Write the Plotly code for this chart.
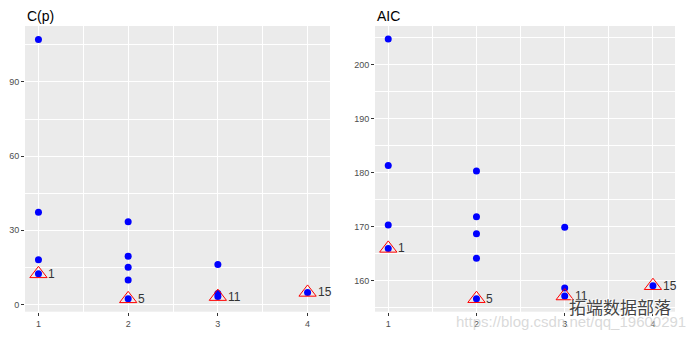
import plotly.graph_objects as go

# ---- data ----
sizes = [1, 1, 1, 1, 2, 2, 2, 2, 2, 3, 3, 3, 4]
cp_vals = [107.1, 37.3, 18.1, 12.4, 33.5, 19.5, 15.1, 9.9, 2.3, 16.2, 4.5, 3.2, 4.9]
aic_vals = [204.7, 181.3, 170.3, 166.0, 180.3, 171.85, 168.7, 164.2, 156.7, 169.9, 158.7, 157.2, 159.1]

best_sizes = [1, 2, 3, 4]
best_labels = ["1", "5", "11", "15"]
best_cp = [12.4, 2.3, 3.2, 4.9]
best_aic = [166.0, 156.7, 157.2, 159.1]

panel_titles = ["C(p)", "AIC"]

FONT = "Liberation Sans, Arial, sans-serif"
W, H = 696, 338

fig = go.Figure()

panels = [
    dict(xa="x", ya="y", vals=cp_vals, best=best_cp),
    dict(xa="x2", ya="y2", vals=aic_vals, best=best_aic),
]
for p in panels:
    fig.add_trace(go.Scatter(
        x=sizes, y=p["vals"], mode="markers", xaxis=p["xa"], yaxis=p["ya"],
        marker=dict(color="#0000FF", size=7, line=dict(width=0)),
        showlegend=False, hoverinfo="skip"))
    fig.add_trace(go.Scatter(
        x=best_sizes, y=p["best"], mode="markers", xaxis=p["xa"], yaxis=p["ya"],
        marker=dict(symbol="triangle-up-open", color="#FF0000", size=15,
                    line=dict(width=1, color="#FF0000")),
        showlegend=False, hoverinfo="skip"))
    for xs, ys, lab in zip(best_sizes, p["best"], best_labels):
        fig.add_annotation(x=xs, y=ys, xref=p["xa"], yref=p["ya"], text=lab,
                           showarrow=False, xanchor="left", yanchor="middle",
                           xshift=8, font=dict(family=FONT, size=12, color="#333333"))

axis_common = dict(
    showline=False, zeroline=False, ticks="outside", ticklen=3, tickwidth=1,
    tickcolor="#333333", tickfont=dict(family=FONT, size=9, color="#4D4D4D"),
    showgrid=True, gridcolor="#FFFFFF", gridwidth=1.1,
)

ytop = 1 - 26 / H
ybot = 1 - 311.7 / H

fig.update_layout(
    width=W, height=H, margin=dict(l=0, r=0, t=0, b=0),
    paper_bgcolor="white", plot_bgcolor="#EBEBEB",
    xaxis=dict(domain=[25 / W, 330 / W], range=[0.85, 4.25], tickvals=[1, 2, 3, 4],
               minor=dict(tick0=0.5, dtick=0.5, showgrid=True, gridcolor="#FFFFFF", gridwidth=0.5, ticks=""),
               anchor="y", **axis_common),
    yaxis=dict(domain=[ybot, ytop], range=[-2.9, 112.6], tickvals=[0, 30, 60, 90],
               minor=dict(tick0=0, dtick=15, showgrid=True, gridcolor="#FFFFFF", gridwidth=0.5, ticks=""),
               anchor="x", **axis_common),
    xaxis2=dict(domain=[375 / W, 675 / W], range=[0.85, 4.25], tickvals=[1, 2, 3, 4],
                minor=dict(tick0=0.5, dtick=0.5, showgrid=True, gridcolor="#FFFFFF", gridwidth=0.5, ticks=""),
                anchor="y2", **axis_common),
    yaxis2=dict(domain=[ybot, ytop], range=[154.3, 207.1], tickvals=[160, 170, 180, 190, 200],
                minor=dict(tick0=0, dtick=5, showgrid=True, gridcolor="#FFFFFF", gridwidth=0.5, ticks=""),
                anchor="x2", **axis_common),
)

# panel titles
for title, xpx in zip(panel_titles, [25, 375]):
    fig.add_annotation(x=xpx / W, y=1 - 16 / H, xref="paper", yref="paper", text=title,
                       showarrow=False, xanchor="left", yanchor="middle",
                       font=dict(family=FONT, size=14, color="#000000"))

# watermark
fig.add_annotation(x=688 / W, y=1 - 321 / H, xref="paper", yref="paper",
                   text="https://blog.csdn.net/qq_19600291", showarrow=False,
                   xanchor="right", yanchor="middle",
                   font=dict(family=FONT, size=15, color="rgba(205,205,205,0.75)"))
fig.add_annotation(x=673 / W, y=1 - 306 / H, xref="paper", yref="paper",
                   text="拓端数据部落", showarrow=False, xanchor="right", yanchor="middle",
                   font=dict(family="Noto Sans CJK SC", size=17, color="#444444",
                             shadow="1px 1px 1px white, -1px -1px 1px white"))

fig.write_html("out.html")
